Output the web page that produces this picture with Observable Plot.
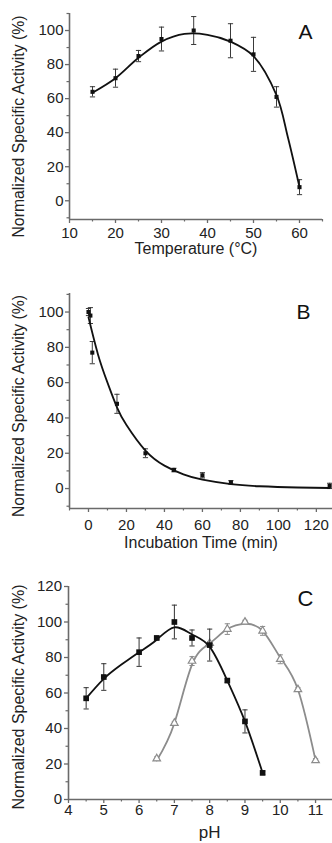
<!DOCTYPE html>
<html>
<head>
<meta charset="utf-8">
<script src="https://cdn.jsdelivr.net/npm/d3@7"></script>
<script src="https://cdn.jsdelivr.net/npm/@observablehq/plot@0.6"></script>
<style>
  html, body { margin: 0; padding: 0; background: #fff; overflow: hidden; }
  #wrap { width: 332px; height: 843px; overflow: hidden; }
  #wrap svg { display: block; }
</style>
</head>
<body>
<div id="wrap"></div>
<script>
// ---------- Panel A: temperature ----------
const tempC = [15, 20, 25, 30, 37, 45, 50, 55, 60];
const tempActivity = [64, 72, 85, 95, 100, 94, 86, 61, 8];
const tempError = [3, 5.3, 3.3, 7, 8.2, 10, 10, 6, 4.4];
const tempFitX = [15, 20, 25, 30, 35, 40, 45, 50, 55, 57.5, 60];
const tempFitY = [63.5, 72, 84, 93.5, 98, 97.5, 93.5, 85, 62, 37, 8];

// ---------- Panel B: incubation time ----------
const timeMin = [0, 1, 2, 15, 30, 45, 60, 75, 127];
const timeActivity = [100, 98, 77, 48, 20, 10.5, 7.5, 3.5, 1.5];
const timeError = [2, 4.5, 6.3, 5.4, 2.5, 1, 1.5, 1, 1.5];
const timeFitX = [0, 5, 10, 15, 20, 30, 40, 50, 60, 75, 90, 110, 127];
const timeFitY = [97, 76, 60, 46, 36, 21.5, 13, 8, 5, 2.5, 1.3, 0.6, 0.3];

// ---------- Panel C: pH ----------
const phBlack = [4.5, 5, 6, 6.5, 7, 7.5, 8, 8.5, 9, 9.5];
const actBlack = [57, 69, 83, 91, 100, 91, 87, 67, 44, 15];
const errBlack = [6, 7.5, 8, 1, 9.5, 4.5, 9, 1, 6.5, 1];
const phBlackFitX = [4.5, 5, 5.5, 6, 6.5, 7, 7.5, 8, 8.5, 9, 9.5];
const phBlackFitY = [57, 68, 76, 83, 90, 97, 93, 86, 67, 44, 15];

const phGray = [6.5, 7, 7.5, 8, 8.5, 9, 9.5, 10, 10.5, 11];
const actGray = [23, 43, 78, 88, 96, 100, 95, 79, 62, 22];
const errGray = [1, 1, 2.5, 1, 3, 1, 2.5, 2.5, 1, 1];
const phGrayFitY = [22, 43, 76, 88, 96, 99, 95, 80, 62, 22];

// tick labels
const ticksA_X = [10, 20, 30, 40, 50, 60];
const ticksA_Y = [0, 20, 40, 60, 80, 100];
const ticksB_X = [0, 20, 40, 60, 80, 100, 120];
const ticksB_Y = [0, 20, 40, 60, 80, 100];
const ticksC_X = [4, 5, 6, 7, 8, 9, 10, 11];
const ticksC_Y = [0, 20, 40, 60, 80, 100, 120];
const minorA_X = [15, 25, 35, 45, 55, 65];
const minorA_Y = [-10, 10, 30, 50, 70, 90, 110];
const minorB_X = [-10, 10, 30, 50, 70, 90, 110];
const minorB_Y = [-10, 10, 30, 50, 70, 90, 110];
const minorC_X = [4.5, 5.5, 6.5, 7.5, 8.5, 9.5, 10.5];
const minorC_Y = [10, 30, 50, 70, 90, 110];

const yTitle = "Normalized Specific Activity (%)";

const rows = (xs, ys, es) => xs.map((x, i) => ({x, y: ys[i], e: es ? es[i] : 0}));
const FONT = "'Liberation Sans', Arial, Helvetica, sans-serif";
const AXIS = "#6a6a6a";
const TXT = "#222";

const cap = {
  draw(ctx, size) {
    const w = Math.sqrt(size / Math.PI);
    ctx.moveTo(-w, 0); ctx.lineTo(w, 0);
  }
};

function errorMarks(data, color) {
  return [
    Plot.ruleX(data, {x: "x", y1: d => d.y - d.e, y2: d => d.y + d.e, stroke: color, strokeWidth: 1}),
    Plot.dot(data, {x: "x", y: d => d.y + d.e, symbol: cap, r: 2.6, stroke: color, fill: "none", strokeWidth: 1}),
    Plot.dot(data, {x: "x", y: d => d.y - d.e, symbol: cap, r: 2.6, stroke: color, fill: "none", strokeWidth: 1})
  ];
}

function axes(cfg) {
  return [
    Plot.axisY({ticks: cfg.yt, tickSize: 4, tickPadding: cfg.ypad ?? 2, fontSize: 15, stroke: AXIS, fill: TXT, strokeWidth: 1.3, label: null}),
    Plot.axisY({ticks: cfg.ym, tickSize: 2.5, tickFormat: () => "", stroke: AXIS, strokeWidth: 1.2, label: null}),
    Plot.axisX({ticks: cfg.xt, tickSize: 4, tickPadding: cfg.xpad ?? 4, fontSize: 15, stroke: AXIS, fill: TXT, strokeWidth: 1.3, label: null}),
    Plot.axisX({ticks: cfg.xm, tickSize: 2.5, tickFormat: () => "", stroke: AXIS, strokeWidth: 1.2, label: null}),
    Plot.ruleX([cfg.xd[0]], {stroke: AXIS, strokeWidth: 1.6}),
    Plot.ruleY([cfg.yd[0]], {stroke: AXIS, strokeWidth: 1.6})
  ];
}

const wrap = document.getElementById("wrap");

// Panel A
wrap.appendChild(Plot.plot({
  width: 332, height: 280,
  marginTop: 13, marginBottom: 61, marginLeft: 69, marginRight: 10,
  style: {fontFamily: FONT, background: "#fff", color: TXT},
  x: {domain: [10, 65]},
  y: {domain: [-11, 110]},
  marks: [
    ...axes({xt: ticksA_X, xm: minorA_X, yt: ticksA_Y, ym: minorA_Y, xd: [10, 65], yd: [-11, 110], xpad: 4}),
    ...errorMarks(rows(tempC, tempActivity, tempError), "#3a3a3a"),
    Plot.line(rows(tempFitX, tempFitY), {x: "x", y: "y", curve: "catmull-rom", stroke: "#111", strokeWidth: 1.8}),
    Plot.dot(rows(tempC, tempActivity), {x: "x", y: "y", symbol: "square", r: 2.3, fill: "#111"}),
    Plot.text([yTitle], {text: d => d, frameAnchor: "left", rotate: -90, dx: -51, dy: 10, fontSize: 15.8, fill: TXT, textAnchor: "middle", lineAnchor: "middle"}),
    Plot.text(["Temperature (°C)"], {text: d => d, frameAnchor: "bottom", dy: 29, fontSize: 16, fill: TXT, lineAnchor: "middle"}),
    Plot.text(["A"], {text: d => d, frameAnchor: "top-right", dx: -17, dy: 25, fontSize: 21, fill: "#111", textAnchor: "middle", lineAnchor: "bottom"})
  ]
}));

// Panel B
wrap.appendChild(Plot.plot({
  width: 332, height: 280,
  marginTop: 13, marginBottom: 52, marginLeft: 69, marginRight: 0,
  style: {fontFamily: FONT, background: "#fff", color: TXT, overflow: "visible"},
  x: {domain: [-10, 128.5]},
  y: {domain: [-11.3, 110.5]},
  marks: [
    ...axes({xt: ticksB_X, xm: minorB_X, yt: ticksB_Y, ym: minorB_Y, xd: [-10, 128.5], yd: [-11.3, 110.5], xpad: 7}),
    ...errorMarks(rows(timeMin, timeActivity, timeError), "#3a3a3a"),
    Plot.line(rows(timeFitX, timeFitY), {x: "x", y: "y", curve: "natural", stroke: "#111", strokeWidth: 1.8}),
    Plot.dot(rows(timeMin, timeActivity), {x: "x", y: "y", symbol: "square", r: 2.3, fill: "#111"}),
    Plot.text([yTitle], {text: d => d, frameAnchor: "left", rotate: -90, dx: -51, dy: 5, fontSize: 15.8, fill: TXT, textAnchor: "middle", lineAnchor: "middle"}),
    Plot.text(["Incubation Time (min)"], {text: d => d, frameAnchor: "bottom", dy: 34, fontSize: 16, fill: TXT, lineAnchor: "middle"}),
    Plot.text(["B"], {text: d => d, frameAnchor: "top-right", dx: -29, dy: 25, fontSize: 21, fill: "#111", textAnchor: "middle", lineAnchor: "bottom"})
  ]
}));

// Panel C
wrap.appendChild(Plot.plot({
  width: 332, height: 283,
  marginTop: 26, marginBottom: 44, marginLeft: 68, marginRight: 0,
  style: {fontFamily: FONT, background: "#fff", color: TXT},
  x: {domain: [4, 11.48]},
  y: {domain: [0, 120]},
  marks: [
    ...axes({xt: ticksC_X, xm: minorC_X, yt: ticksC_Y, ym: minorC_Y, xd: [4, 11.48], yd: [0, 120], xpad: 1, ypad: 2.5}),
    ...errorMarks(rows(phGray, actGray, errGray), "#8c8c8c"),
    Plot.line(rows(phGray, phGrayFitY), {x: "x", y: "y", curve: "natural", stroke: "#8c8c8c", strokeWidth: 1.8}),
    Plot.dot(rows(phGray, actGray), {x: "x", y: "y", symbol: "triangle", r: 2.8, fill: "#fff", stroke: "#8c8c8c", strokeWidth: 1.2}),
    ...errorMarks(rows(phBlack, actBlack, errBlack), "#333"),
    Plot.line(rows(phBlackFitX, phBlackFitY), {x: "x", y: "y", curve: "natural", stroke: "#111", strokeWidth: 1.8}),
    Plot.dot(rows(phBlack, actBlack), {x: "x", y: "y", symbol: "square", r: 3.2, fill: "#111"}),
    Plot.text([yTitle], {text: d => d, frameAnchor: "left", rotate: -90, dx: -50, dy: 4, fontSize: 16, fill: TXT, textAnchor: "middle", lineAnchor: "middle"}),
    Plot.text(["pH"], {text: d => d, x: [8], frameAnchor: "bottom", dy: 33, fontSize: 17, fill: TXT, lineAnchor: "middle"}),
    Plot.text(["C"], {text: d => d, frameAnchor: "top-right", dx: -27, dy: 19, fontSize: 22, fill: "#111", textAnchor: "middle", lineAnchor: "bottom"})
  ]
}));
</script>
</body>
</html>
